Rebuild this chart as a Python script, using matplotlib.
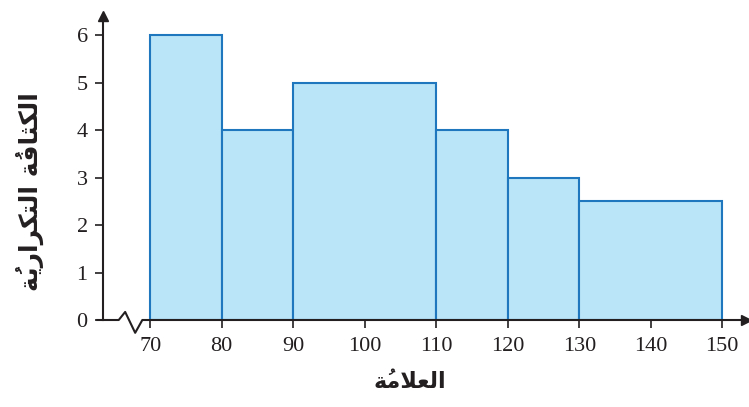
import matplotlib.pyplot as plt

# class boundaries and frequency density
edges = [70, 80, 90, 110, 120, 130, 150]
density = [6, 4, 5, 4, 3, 2.5]
xticks = [70, 80, 90, 100, 110, 120, 130, 140, 150]
yticks = [0, 1, 2, 3, 4, 5, 6]

# Arabic labels written in presentation forms, visual (left-to-right) order,
# since matplotlib does no shaping of its own
xlabel = "\uFE94\u064F\uFEE3\uFEFC\uFECC\uFEDF\uFE8D"              # العلامةُ
ylabel = ("\uFE94\u064F\uFEF3\uFEAD\uFE8D\uFEAE\uFEDC\uFE98\uFEDF\uFE8D"  # التكراريةُ
          " "
          "\uFE94\u064F\uFED3\uFE8E\uFE9C\uFEDC\uFEDF\uFE8D")        # الكثافةُ

fig = plt.figure(figsize=(7.49, 4.07), dpi=100)
ax = fig.add_axes([103 / 749, 1 - 320 / 407, 645 / 749, 311 / 407])

widths = [b - a for a, b in zip(edges[:-1], edges[1:])]
ax.bar(edges[:-1], density, width=widths, align='edge',
       color='#BAE4F8', edgecolor='#1F78BE', linewidth=1.5, zorder=2)

ax.set_xlim(63.4, 153.6)
ax.set_ylim(0, 6.55)

for s in ax.spines.values():
    s.set_visible(False)

# axes drawn by hand so the x-axis can have its break
x0 = 63.4
ax.plot([x0 - 0.8, 65.6, 66.5, 67.9, 68.9, 153.2], [0, 0, 0.17, -0.27, 0, 0],
        color='#231F20', lw=1.5, clip_on=False, zorder=3)
ax.plot([x0, x0], [0, 6.35], color='#231F20', lw=1.5, clip_on=False, zorder=3)
ax.plot([153.3], [0], marker='>', color='#231F20', ms=7, clip_on=False, zorder=3)
ax.plot([x0], [6.4], marker='^', color='#231F20', ms=7, clip_on=False, zorder=3)

ax.set_xticks(xticks)
ax.set_yticks(yticks)
ax.tick_params(axis='both', direction='out', length=6, width=1.2, color='#231F20',
               labelsize=16, labelcolor='#231F20', pad=5)
ax.tick_params(axis='x', pad=6)
for lab in ax.get_xticklabels() + ax.get_yticklabels():
    lab.set_family('Liberation Serif')

fig.text(410 / 749, 1 - 382 / 407, xlabel, family=['DejaVu Sans'],
         fontweight='bold', fontsize=16, ha='center', va='center', color='#231F20')
fig.text(30 / 749, 1 - 192 / 407, ylabel, family=['DejaVu Sans'],
         fontweight='bold', fontsize=18, rotation=90, ha='center', va='center',
         color='#231F20')

fig.savefig('out.png', dpi=100)
